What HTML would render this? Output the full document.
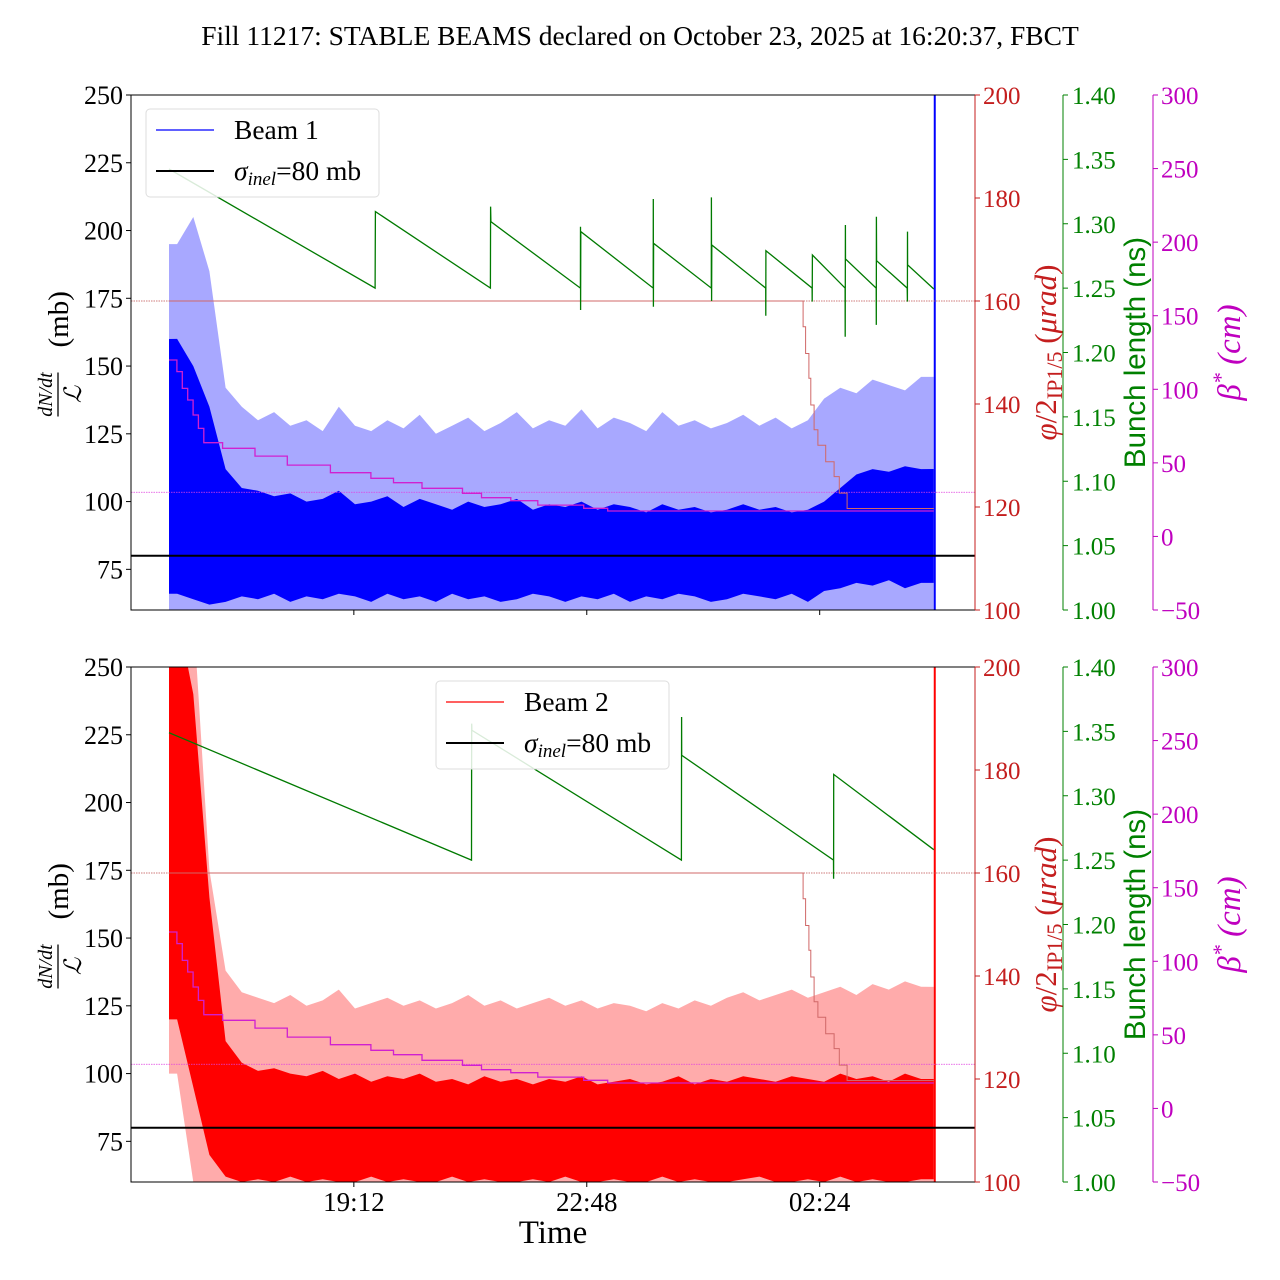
<!DOCTYPE html>
<html><head><meta charset="utf-8"><title>Fill 11217</title>
<style>
html,body{margin:0;padding:0;background:#fff;}
svg{display:block;font-family:"Liberation Serif",serif;}
</style></head>
<body>
<svg id="chart" xmlns="http://www.w3.org/2000/svg" width="1280" height="1280" viewBox="0 0 1280 1280">
<rect width="1280" height="1280" fill="#fff"/>
<text x="640" y="45" font-size="27.5" text-anchor="middle">Fill 11217: STABLE BEAMS declared on October 23, 2025 at 16:20:37, FBCT</text>
<text x="553" y="1243" font-size="33" text-anchor="middle">Time</text>
</svg>
<script>
// ---- data (hours since 16:20:37) ----
const xTickLabels = ["19:12", "22:48", "02:24"];
const xTickHours = [2.857, 6.457, 10.057];
const leftTicks = [75, 100, 125, 150, 175, 200, 225, 250];
const redTicks = [100, 120, 140, 160, 180, 200];
const greenTicks = [1.00, 1.05, 1.10, 1.15, 1.20, 1.25, 1.30, 1.35, 1.40];
const magTicks = [-50, 0, 50, 100, 150, 200, 250, 300];
const binWidth = 0.25;
const endHour = 11.82;
const sigmaInel = 80;

const b1LightHi = [195,205,185,142,135,130,133,128,130,126,135,128,126,130,127,132,125,128,131,126,129,133,127,130,128,134,127,131,129,126,133,128,130,127,129,132,128,131,127,130,138,142,140,145,143,141,146,144];
const b1DarkHi = [160,150,135,112,105,104,102,103,100,101,104,99,100,102,98,101,99,97,100,98,99,101,97,99,98,100,97,99,98,96,99,97,98,96,97,99,97,98,96,97,100,105,110,112,111,113,112,114];
const b1DarkLo = [66,64,62,63,65,64,66,63,65,64,66,65,63,66,64,65,63,66,64,65,63,64,66,65,63,65,64,66,63,65,64,66,65,63,64,66,65,64,66,63,67,68,70,69,71,68,70,69];
const b1LightLo = [60,60,60,60,60,60,60,60,60,60,60,60,60,60,60,60,60,60,60,60,60,60,60,60,60,60,60,60,60,60,60,60,60,60,60,60,60,60,60,60,60,60,60,60,60,60,60,60];

const b2LightHi = [270,270,175,138,130,128,126,129,125,127,131,124,126,128,125,127,124,126,129,125,127,124,126,128,125,127,124,126,125,123,126,124,127,125,128,130,127,129,131,128,130,132,129,133,131,134,132,130];
const b2DarkHi = [270,240,165,112,104,101,102,100,99,101,98,100,97,99,98,100,97,98,96,99,97,98,96,98,97,99,96,97,98,96,97,99,96,98,97,99,98,97,99,98,97,100,98,99,97,100,98,99];
const b2DarkLo = [120,95,70,62,60,61,60,62,60,61,60,60,62,60,61,60,60,62,60,61,60,60,61,60,62,60,60,61,60,60,62,60,61,60,60,61,62,60,60,61,60,62,60,61,60,60,61,60];
const b2LightLo = [100,60,60,60,60,60,60,60,60,60,60,60,60,60,60,60,60,60,60,60,60,60,60,60,60,60,60,60,60,60,60,60,60,60,60,60,60,60,60,60,60,60,60,60,60,60,60,60];

const bl1Hours = [0,3.186,3.19,4.967,4.97,4.975,6.359,6.36,6.362,6.365,7.483,7.485,7.487,7.49,8.382,8.384,8.386,8.39,9.222,9.224,9.226,9.94,9.942,9.944,10.45,10.452,10.454,10.456,10.93,10.932,10.934,10.936,11.41,11.412,11.414,11.416,11.82];
const bl1Values = [1.3425,1.25,1.3094,1.25,1.3133,1.3016,1.25,1.2977,1.233,1.2939,1.25,1.3192,1.2356,1.2848,1.25,1.3205,1.24,1.2835,1.25,1.2286,1.2791,1.25,1.2395,1.2757,1.25,1.2123,1.299,1.2726,1.25,1.2214,1.3055,1.2713,1.25,1.2395,1.2939,1.268,1.2493];
const bl2Hours = [0,4.675,4.677,4.679,4.681,7.92,7.922,7.924,10.27,10.272,10.274,11.82];
const bl2Values = [1.349,1.25,1.3166,1.356,1.3508,1.25,1.3612,1.3314,1.25,1.2356,1.3166,1.2581];

const xangHours = [0,9.80,9.84,9.89,9.92,9.97,10.03,10.15,10.28,10.36,10.48];
const xangValues = [160,155,149.8,145,139.8,135,132,128.8,125.9,122.7,119.7];
const betaHours = [0,0.122,0.205,0.289,0.372,0.455,0.538,0.829,1.329,1.828,2.494,3.12,3.47,3.91,4.537,4.83,5.283,5.70,6.41,6.78];
const betaValues = [119.9,112,100.6,92.7,82.5,73.4,63.7,59.9,54.6,48.5,43.3,39.5,36.5,32.7,29.3,26.3,24.3,21.3,19.1,17.3];
const xangRef = 160;
const betaRef = 30;

// ---- drawing ----
const NS = "http://www.w3.org/2000/svg";
const svg = document.getElementById("chart");
const L = 131, R = 975, PH = 515;
function X(t){ return 169 + 64.7 * t; }
function el(tag, attrs, parent){ const e = document.createElementNS(NS, tag); for (const k in attrs) e.setAttribute(k, attrs[k]); (parent||svg).appendChild(e); return e; }

function stepPts(hours, vals, fy){
  let p = [];
  for (let i = 0; i < hours.length; i++){
    const x0 = X(hours[i]), x1 = X(i + 1 < hours.length ? hours[i+1] : endHour);
    p.push(x0.toFixed(1)+","+fy(vals[i]).toFixed(1)); p.push(x1.toFixed(1)+","+fy(vals[i]).toFixed(1));
  }
  return p.join(" ");
}
function bandPts(hi, lo, fy){
  const up = [], dn = [];
  const n = hi.length;
  const ts = [];
  for (let i = 0; i < n; i++){ const tc = (i + 0.5) * binWidth; if (tc < endHour) ts.push([tc, i]); }
  up.push(X(0)+","+fy(hi[0])); dn.push(X(0)+","+fy(lo[0]));
  for (const [tc, i] of ts){ up.push(X(tc).toFixed(1)+","+fy(hi[i]).toFixed(1)); dn.push(X(tc).toFixed(1)+","+fy(lo[i]).toFixed(1)); }
  const li = ts[ts.length-1][1];
  up.push(X(endHour)+","+fy(hi[li])); dn.push(X(endHour)+","+fy(lo[li]));
  return up.concat(dn.reverse()).join(" ");
}

function panel(idx, top, dark, light, data, legendX, legendLabel){
  const Yl = v => top + (250 - v) * PH / 190;
  const Yr = v => top + (200 - v) * PH / 100;
  const Yg = v => top + (1.4 - v) * PH / 0.4;
  const Ym = v => top + (300 - v) * PH / 350;
  const bot = top + PH;
  const g = el("g", {});
  
  
  const cp = el("clipPath", {id: "clip" + idx}, g);
  el("rect", {x: L, y: top, width: R - L, height: PH}, cp);
  const pg = el("g", {"clip-path": "url(#clip" + idx + ")"}, g);

  const lb = el("polygon", {points: bandPts(data.lh, data.ll, Yl), fill: light, stroke: "none"}, pg);
  
  
  const db = el("polygon", {points: bandPts(data.dh, data.dl, Yl), fill: dark, stroke: "none"}, pg);
  
  
  const vl = el("line", {x1: X(endHour)+1, x2: X(endHour)+1, y1: top, y2: bot, stroke: dark, "stroke-width": 2}, pg);
  
  

  const rr = el("line", {x1: L, x2: R, y1: Yr(xangRef), y2: Yr(xangRef), stroke: "#c05050", "stroke-width": 0.8, "stroke-dasharray": "1.5,1"}, pg);
  
  
  const mr = el("line", {x1: L, x2: R, y1: Ym(betaRef), y2: Ym(betaRef), stroke: "#e040e0", "stroke-width": 0.8, "stroke-dasharray": "1.5,1"}, pg);
  
  

  const xa = el("polyline", {points: stepPts(xangHours, xangValues, Yr), fill: "none", stroke: "#d06868", "stroke-width": 1}, pg);
  
  
  const be = el("polyline", {points: stepPts(betaHours, betaValues, Ym), fill: "none", stroke: "#d020d0", "stroke-width": 1.3}, pg);
  
  
  const blp = data.bh.map((t, i) => X(t).toFixed(1) + "," + Yg(data.bv[i]).toFixed(1)).join(" ");
  const bl = el("polyline", {points: blp, fill: "none", stroke: "#007a00", "stroke-width": 1.3}, pg);
  
  
  const sl = el("line", {x1: L, x2: R, y1: Yl(sigmaInel), y2: Yl(sigmaInel), stroke: "#000", "stroke-width": 2}, pg);
  
  

  // frame
  const fr = el("rect", {x: L, y: top, width: R - L, height: PH, fill: "none", stroke: "#000", "stroke-width": 1}, g);
  
  
  const rs = el("line", {x1: R, x2: R, y1: top, y2: bot, stroke: "#c41e1e", "stroke-width": 1}, g);
  
  
  const gs = el("line", {x1: 1063, x2: 1063, y1: top, y2: bot, stroke: "#008000", "stroke-width": 1}, g);
  
  
  const ms = el("line", {x1: 1153, x2: 1153, y1: top, y2: bot, stroke: "#bf00bf", "stroke-width": 1}, g);
  
  

  // ticks
  leftTicks.forEach(v => {
    el("line", {x1: L - 5, x2: L, y1: Yl(v), y2: Yl(v), stroke: "#000"}, g);
    const t = el("text", {x: L - 8, y: Yl(v) + 9, "font-size": 26, "text-anchor": "end"}, g);
    t.textContent = v;
    
    
  });
  redTicks.forEach(v => {
    el("line", {x1: R, x2: R + 5, y1: Yr(v), y2: Yr(v), stroke: "#c41e1e"}, g);
    const t = el("text", {x: R + 8, y: Yr(v) + 9, "font-size": 25, fill: "#c41e1e"}, g);
    t.textContent = v;
    
    
  });
  greenTicks.forEach(v => {
    el("line", {x1: 1063, x2: 1068, y1: Yg(v), y2: Yg(v), stroke: "#008000"}, g);
    const t = el("text", {x: 1072, y: Yg(v) + 9, "font-size": 25, fill: "#008000"}, g);
    t.textContent = v.toFixed(2);
    
    
  });
  magTicks.forEach(v => {
    el("line", {x1: 1153, x2: 1158, y1: Ym(v), y2: Ym(v), stroke: "#bf00bf"}, g);
    const t = el("text", {x: 1161, y: Ym(v) + 9, "font-size": 25, fill: "#bf00bf"}, g);
    t.textContent = v < 0 ? "\u2212" + Math.abs(v) : v;
    
    
  });
  xTickHours.forEach((h, i) => {
    el("line", {x1: X(h), x2: X(h), y1: bot, y2: bot + 5, stroke: "#000"}, g);
    if (idx === 2){
      const t = el("text", {x: X(h), y: bot + 29, "font-size": 27, "text-anchor": "middle"}, g);
      t.textContent = xTickLabels[i];
      
      
    }
  });

  // axis titles
  const cy = top + PH / 2;
  const la = el("g", {transform: "translate(58," + cy + ") rotate(-90)"}, g);
  
  
  const num = el("text", {x: -42, y: -6, "font-size": 20, "font-style": "italic", "text-anchor": "middle"}, la);
  num.textContent = "dN/dt";
  el("line", {x1: -64, x2: -20, y1: 0, y2: 0, stroke: "#000", "stroke-width": 1.3}, la);
  const den = el("text", {x: -42, y: 23, "font-size": 24, "font-style": "italic", "text-anchor": "middle"}, la);
  den.textContent = "\u2112";
  const mb = el("text", {x: 5, y: 10, "font-size": 29}, la);
  mb.textContent = "(mb)";

  const ra = el("text", {transform: "translate(1056," + cy + ") rotate(-90)", "font-size": 31, fill: "#c41e1e", "text-anchor": "middle"}, g);
  ra.innerHTML = '<tspan font-style="italic">\u03c6</tspan>/2<tspan font-size="22" dy="6">IP1/5</tspan><tspan dy="-6"> (</tspan><tspan font-style="italic">\u03bcrad</tspan>)';
  
  
  const ga = el("text", {transform: "translate(1145," + cy + ") rotate(-90)", "font-size": 29.5, fill: "#008000", "text-anchor": "middle", "font-family": "Liberation Sans, sans-serif"}, g);
  ga.textContent = "Bunch length (ns)";
  
  
  const ma = el("text", {transform: "translate(1240," + cy + ") rotate(-90)", "font-size": 33, fill: "#bf00bf", "text-anchor": "middle", "font-style": "italic"}, g);
  ma.innerHTML = '\u03b2<tspan dy="-12" font-size="22">*</tspan><tspan dy="12"> (cm)</tspan>';
  
  

  // legend
  const lg = el("g", {}, g);
  
  
  const ly = top + 14;
  el("rect", {x: legendX, y: ly, width: 233, height: 88, rx: 4, fill: "#fff", "fill-opacity": 0.85, stroke: "#ddd"}, lg);
  const e1 = el("line", {x1: legendX + 10, x2: legendX + 68, y1: ly + 21, y2: ly + 21, stroke: dark, "stroke-width": 1.3}, lg);
  
  
  const t1 = el("text", {x: legendX + 88, y: ly + 30, "font-size": 27.5}, lg);
  t1.textContent = legendLabel;
  
  
  const e2 = el("line", {x1: legendX + 10, x2: legendX + 68, y1: ly + 62, y2: ly + 62, stroke: "#000", "stroke-width": 2}, lg);
  
  
  const t2 = el("text", {x: legendX + 88, y: ly + 71, "font-size": 27.5}, lg);
  t2.innerHTML = '<tspan font-style="italic">\u03c3</tspan><tspan font-style="italic" font-size="19" dy="5">inel</tspan><tspan dy="-5">=80 mb</tspan>';
  
  
}

panel(1, 95, "#0000ff", "#a8a8ff", {lh: b1LightHi, dh: b1DarkHi, dl: b1DarkLo, ll: b1LightLo, bh: bl1Hours, bv: bl1Values}, 146, "Beam 1");
panel(2, 667, "#ff0000", "#ffabab", {lh: b2LightHi, dh: b2DarkHi, dl: b2DarkLo, ll: b2LightLo, bh: bl2Hours, bv: bl2Values}, 436, "Beam 2");
</script>
</body></html>
